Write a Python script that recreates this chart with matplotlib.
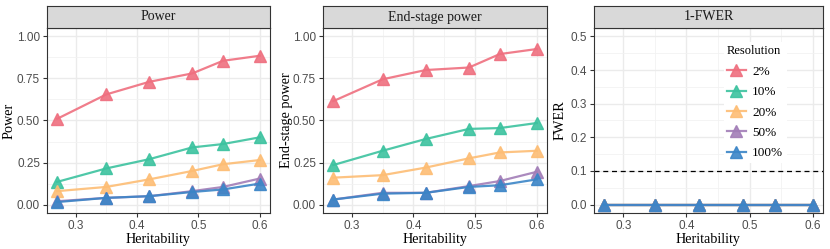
import matplotlib.pyplot as plt
from matplotlib.ticker import MultipleLocator, StrMethodFormatter
from matplotlib.transforms import blended_transform_factory

heritability = [0.27, 0.35, 0.42, 0.49, 0.54, 0.6]
resolutions = ['2%', '10%', '20%', '50%', '100%']
colors = ['#EF6F7F', '#3CC29F', '#FDBD74', '#A27DB7', '#3B85C7']

power = [
    [0.51, 0.655, 0.73, 0.78, 0.855, 0.885],
    [0.135, 0.215, 0.27, 0.34, 0.36, 0.40],
    [0.08, 0.105, 0.15, 0.20, 0.24, 0.265],
    [0.02, 0.04, 0.05, 0.08, 0.105, 0.155],
    [0.015, 0.04, 0.05, 0.075, 0.09, 0.125],
]
endstage = [
    [0.615, 0.745, 0.80, 0.815, 0.895, 0.925],
    [0.235, 0.32, 0.39, 0.45, 0.455, 0.485],
    [0.16, 0.175, 0.22, 0.275, 0.31, 0.32],
    [0.03, 0.07, 0.07, 0.11, 0.14, 0.195],
    [0.03, 0.065, 0.07, 0.105, 0.115, 0.15],
]
fwer = [[0, 0, 0, 0, 0, 0] for r in resolutions]

panels = [('Power', 'Power', power, 1.0, 0.25, 0.125),
          ('End-stage power', 'End-stage power', endstage, 1.0, 0.25, 0.125),
          ('1-FWER', 'FWER', fwer, 0.5, 0.1, 0.05)]

W, H = 830, 249
lefts = [47, 323, 594]
rights = [270, 547, 823]
ylab_x = [16, 293, 567]   # right edge of the rotated y label, in pixels
strip_top, strip_bot, ax_bot = 6, 28, 213

serif = 'Liberation Serif'
sans = 'Liberation Sans'

fig = plt.figure(figsize=(W / 100, H / 100), dpi=100)

for i, (title, ylab, data, ymax, ymaj, ymin) in enumerate(panels):
    l, r = lefts[i], rights[i]
    ax = fig.add_axes([l / W, 1 - ax_bot / H, (r - l) / W, (ax_bot - strip_bot) / H])
    st = fig.add_axes([l / W, 1 - strip_bot / H, (r - l) / W, (strip_bot - strip_top) / H])
    st.set_facecolor('#D9D9D9')
    st.set_xticks([])
    st.set_yticks([])
    for s in st.spines.values():
        s.set_color('#333333')
        s.set_linewidth(0.8)
    st.text(0.5, 0.5, title, ha='center', va='center', fontsize=10, family=serif,
            color='#1A1A1A', transform=st.transAxes)

    for j, res in enumerate(resolutions):
        ax.plot(heritability, data[j], color=colors[j], lw=1.6, alpha=0.9,
                marker='^', ms=8.5, label=res, zorder=3 + j)

    if ylab == 'FWER':
        ax.axhline(0.1, color='black', ls='--', lw=0.9, dashes=(4, 3), zorder=2)
        leg = ax.legend(title='Resolution', loc='upper left', bbox_to_anchor=(0.538, 0.96),
                        frameon=True, facecolor='white', edgecolor='none', framealpha=1,
                        prop={'family': serif, 'size': 9.5}, handlelength=1.4,
                        handletextpad=0.5, labelspacing=0.62, borderpad=0.25,
                        alignment='left')
        leg.get_title().set_family(serif)
        leg.get_title().set_fontsize(9)

    pad = 0.05 * (0.6 - 0.27)
    ax.xaxis.set_major_locator(MultipleLocator(0.1))
    ax.xaxis.set_minor_locator(MultipleLocator(0.05))
    ax.yaxis.set_major_locator(MultipleLocator(ymaj))
    ax.yaxis.set_minor_locator(MultipleLocator(ymin))
    ax.set_xlim(0.27 - pad, 0.6 + pad)
    ax.set_ylim(-0.05 * ymax, ymax * 1.05)
    ax.yaxis.set_major_formatter(StrMethodFormatter('{x:.2f}' if ymax == 1.0 else '{x:.1f}'))
    ax.xaxis.set_major_formatter(StrMethodFormatter('{x:.1f}'))

    ax.grid(True, which='major', color='#EBEBEB', lw=1.0, zorder=0)
    ax.grid(True, which='minor', color='#F2F2F2', lw=0.6, zorder=0)
    ax.set_axisbelow(True)
    ax.tick_params(which='minor', length=0)
    ax.tick_params(which='major', length=3, color='#333333', width=0.8,
                   labelsize=8.5, labelcolor='#4D4D4D', pad=2)
    for lab in ax.get_xticklabels() + ax.get_yticklabels():
        lab.set_family(sans)
    for s in ax.spines.values():
        s.set_color('#333333')
        s.set_linewidth(0.8)
    ax.set_xlabel('Heritability', family=serif, fontsize=10.2, labelpad=1)
    ax.set_ylabel(ylab, family=serif, fontsize=10.3)
    tr = blended_transform_factory(fig.transFigure, ax.transAxes)
    ax.yaxis.set_label_coords(ylab_x[i] / W, 0.5, transform=tr)

fig.savefig('out.png', dpi=100)
